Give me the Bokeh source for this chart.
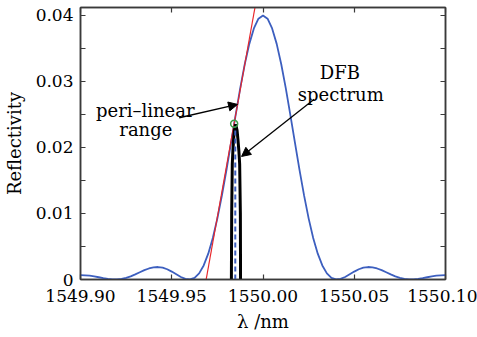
from bokeh.plotting import figure
from bokeh.models import (FixedTicker, CustomJSTickFormatter, LinearAxis, Label,
                          Arrow, NormalHead)
from bokeh.embed import file_html
from bokeh.resources import INLINE

# ---------------- data ----------------
wavelength_nm = [
    1549.9000, 1549.9025, 1549.9050, 1549.9075, 1549.9100, 1549.9125, 1549.9150, 1549.9175,
    1549.9200, 1549.9225, 1549.9250, 1549.9275, 1549.9300, 1549.9325, 1549.9350, 1549.9375,
    1549.9400, 1549.9425, 1549.9450, 1549.9475, 1549.9500, 1549.9525, 1549.9550, 1549.9575,
    1549.9600, 1549.9625, 1549.9650, 1549.9675, 1549.9700, 1549.9725, 1549.9750, 1549.9775,
    1549.9800, 1549.9825, 1549.9850, 1549.9875, 1549.9900, 1549.9925, 1549.9950, 1549.9975,
    1550.0000,
    1550.0025, 1550.0050, 1550.0075, 1550.0100, 1550.0125, 1550.0150, 1550.0175, 1550.0200,
    1550.0225, 1550.0250, 1550.0275, 1550.0300, 1550.0325, 1550.0350, 1550.0375, 1550.0400,
    1550.0425, 1550.0450, 1550.0475, 1550.0500, 1550.0525, 1550.0550, 1550.0575, 1550.0600,
    1550.0625, 1550.0650, 1550.0675, 1550.0700, 1550.0725, 1550.0750, 1550.0775, 1550.0800,
    1550.0825, 1550.0850, 1550.0875, 1550.0900, 1550.0925, 1550.0950, 1550.0975, 1550.1000,
]
reflectivity = [
    0.00066, 0.00064, 0.00058, 0.00047, 0.00034, 0.00020, 0.00009, 0.00001,
    0.00001, 0.00008, 0.00024, 0.00047, 0.00077, 0.00109, 0.00141, 0.00167,
    0.00184, 0.00189, 0.00179, 0.00155, 0.00120, 0.00079, 0.00038, 0.00009,
    0.00001, 0.00025, 0.00093, 0.00213, 0.00391, 0.00629, 0.00926, 0.01274,
    0.01661, 0.02073, 0.02491, 0.02894, 0.03260, 0.03569, 0.03803, 0.03950,
    0.04000,
    0.03950, 0.03803, 0.03569, 0.03260, 0.02894, 0.02491, 0.02073, 0.01661,
    0.01274, 0.00926, 0.00629, 0.00391, 0.00213, 0.00093, 0.00025, 0.00001,
    0.00009, 0.00038, 0.00079, 0.00120, 0.00155, 0.00179, 0.00189, 0.00184,
    0.00167, 0.00141, 0.00109, 0.00077, 0.00047, 0.00024, 0.00008, 0.00001,
    0.00001, 0.00009, 0.00020, 0.00034, 0.00047, 0.00058, 0.00064, 0.00066,
]

dfb_wavelength_nm = [1549.98268, 1549.98284, 1549.98317, 1549.98350, 1549.98388,
                     1549.98432, 1549.98503, 1549.98579, 1549.98628, 1549.98678,
                     1549.98721, 1549.98760, 1549.98770]
dfb_reflectivity = [0.0, 0.0100, 0.0175, 0.0195, 0.0212, 0.0226, 0.0235,
                    0.0226, 0.0212, 0.0195, 0.0175, 0.0100, 0.0]

tangent_wavelength_nm = [1549.96885, 1549.99560]
tangent_reflectivity = [0.0, 0.0412]

dfb_center_nm = [1549.98481, 1549.98481]
dfb_center_reflectivity = [0.0, 0.0232]

operating_wavelength_nm = [1549.9842]
operating_reflectivity = [0.0236]

x_ticks = [1549.90, 1549.95, 1550.00, 1550.05, 1550.10]
y_ticks = [0.0, 0.01, 0.02, 0.03, 0.04]
y_minor_ticks = [0.005, 0.015, 0.025, 0.035]

# ---------------- figure ----------------
FONT = "DejaVu Serif"
FRAME = "#3a3a3a"
BLUE = "#3d5fbf"

p = figure(width=477, height=337, x_range=(1549.90, 1550.10), y_range=(0.0, 0.0412),
           output_backend="svg", toolbar_location=None,
           min_border_left=79, min_border_right=32, min_border_top=7, min_border_bottom=58)
p.background_fill_color = "white"
p.border_fill_color = "white"
p.xgrid.visible = False
p.ygrid.visible = False
p.outline_line_color = FRAME
p.outline_line_width = 1.5


def style_axis(ax, labels=True):
    ax.axis_line_color = FRAME
    ax.axis_line_width = 1.5
    ax.major_tick_line_color = FRAME
    ax.minor_tick_line_color = FRAME
    ax.major_tick_line_width = 1.2
    ax.minor_tick_line_width = 1.2
    ax.major_tick_in = 5
    ax.major_tick_out = 0
    ax.minor_tick_in = 5
    ax.minor_tick_out = 0
    if labels:
        ax.major_label_text_font = FONT
        ax.major_label_text_font_size = "17px"
        ax.major_label_text_color = "black"
        ax.axis_label_text_font = FONT
        ax.axis_label_text_font_size = "18px"
        ax.axis_label_text_font_style = "normal"
        ax.axis_label_text_color = "black"
    else:
        ax.formatter = CustomJSTickFormatter(code="return '';")
        ax.major_label_text_font_size = "1px"
        ax.major_label_standoff = 0


xa = p.xaxis[0]
xa.ticker = FixedTicker(ticks=x_ticks, minor_ticks=[])
xa.formatter = CustomJSTickFormatter(code="return tick.toFixed(2);")
style_axis(xa)
xa.major_label_standoff = 10
xa.axis_label = "λ /nm"
xa.axis_label_standoff = 6

ya = p.yaxis[0]
ya.ticker = FixedTicker(ticks=y_ticks, minor_ticks=y_minor_ticks)
ya.formatter = CustomJSTickFormatter(code="return tick == 0 ? '0' : tick.toFixed(2);")
style_axis(ya)
ya.major_label_standoff = 7
ya.axis_label = "Reflectivity"
ya.axis_label_standoff = 8

top = LinearAxis(ticker=FixedTicker(ticks=x_ticks, minor_ticks=[]))
style_axis(top, labels=False)
p.add_layout(top, "above")

right = LinearAxis(ticker=FixedTicker(ticks=y_ticks, minor_ticks=y_minor_ticks))
style_axis(right, labels=False)
p.add_layout(right, "right")

# ---------------- glyphs ----------------
p.line(wavelength_nm, reflectivity, line_color=BLUE, line_width=1.8)
p.line(tangent_wavelength_nm, tangent_reflectivity, line_color="#e8262a", line_width=1.2)
p.line(dfb_wavelength_nm, dfb_reflectivity, line_color="black", line_width=3)
p.line(dfb_center_nm, dfb_center_reflectivity, line_color=BLUE, line_width=2,
       line_dash="5 3")
p.scatter(operating_wavelength_nm, operating_reflectivity, marker="circle", size=7,
          fill_color=None, line_color="#3a9a48", line_width=1.5)

# ---------------- annotations ----------------
p.add_layout(Arrow(end=NormalHead(size=9, fill_color="black", line_color="black"),
                   x_start=1549.95410, y_start=0.02450, x_end=1549.98607, y_end=0.02652,
                   line_color="black", line_width=1.3))
p.add_layout(Arrow(end=NormalHead(size=9, fill_color="black", line_color="black"),
                   x_start=1550.02803, y_start=0.02730, x_end=1549.98825, y_end=0.01864,
                   line_color="black", line_width=1.3))

for txt, x, y in [("peri–linear", 1549.9355, 0.02553), ("range", 1549.9358, 0.02273),
                  ("DFB", 1550.0421, 0.03141), ("spectrum", 1550.0426, 0.02803)]:
    p.add_layout(Label(x=x, y=y, text=txt, text_align="center", text_baseline="alphabetic",
                       text_font=FONT, text_font_size="18px", text_color="black"))

open("out.html", "w").write(file_html(p, INLINE))
